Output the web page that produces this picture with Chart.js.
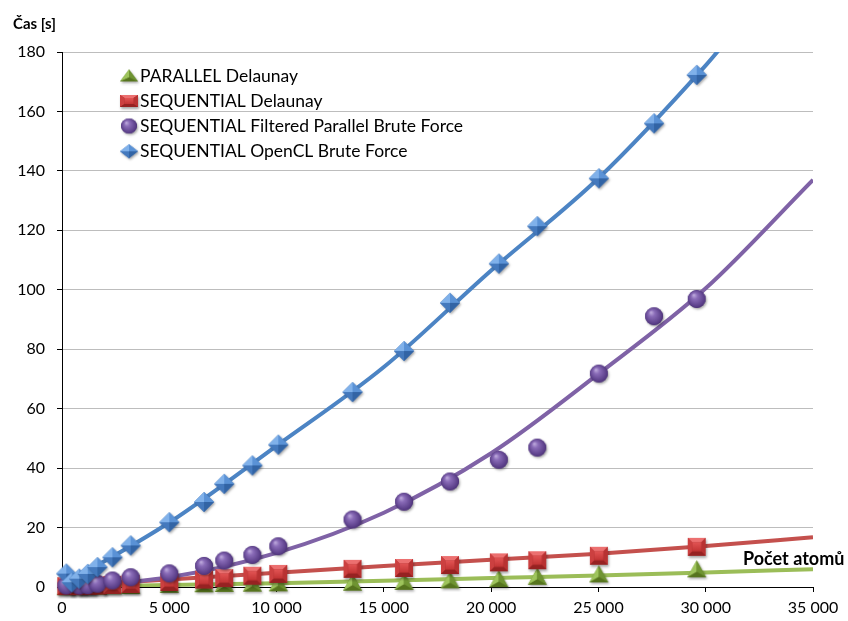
<!DOCTYPE html>
<html>
<head>
<meta charset="utf-8">
<script src="https://cdn.jsdelivr.net/npm/chart.js@4"></script>
<style>
  html, body { margin: 0; padding: 0; background: #fff; }
  #wrap { position: relative; width: 848px; height: 621px; }
</style>
</head>
<body>
<div id="wrap"><canvas id="chart"></canvas></div>
<script>
// ---- tick labels and captions ----
const xTickLabels = ['0', '5 000', '10 000', '15 000', '20 000', '25 000', '30 000', '35 000'];
const yAxisCaption = 'Čas [s]';
const xAxisCaption = 'Počet atomů';
const seriesNames = [
  'PARALLEL Delaunay',
  'SEQUENTIAL Delaunay',
  'SEQUENTIAL Filtered Parallel Brute Force',
  'SEQUENTIAL OpenCL Brute Force'
];

// ---- measured values (atoms -> seconds) ----
const atomsOpenCL = [200, 450, 800, 1200, 1650, 2350, 3200, 5000, 6620, 7560, 8870, 10080, 13540, 15940, 18080, 20360, 22150, 25020, 27590, 29580];
const timeOpenCL  = [4.5, 1.6, 2.8, 4.4, 6.7, 10.0, 14.0, 21.8, 28.6, 34.7, 40.9, 47.9, 65.6, 79.4, 95.6, 108.8, 121.4, 137.5, 156.0, 172.3];

const atomsFiltered = [200, 800, 1200, 1650, 2350, 3200, 5000, 6620, 7560, 8870, 10080, 13540, 15940, 18080, 20360, 22150, 25020, 27590, 29580];
const timeFiltered  = [0.5, 0.5, 0.6, 1.1, 2.2, 3.3, 4.6, 7.1, 8.9, 10.8, 13.7, 22.7, 28.7, 35.5, 42.8, 46.9, 71.8, 91.1, 96.9];

const atomsDelaunay   = [200, 800, 1200, 1650, 2350, 3200, 5000, 6620, 7560, 8870, 10080, 13540, 15940, 18080, 20360, 22150, 25020, 29580];
const timeSeqDelaunay = [0.3, 0.3, 0.4, 0.5, 0.7, 1.0, 1.7, 2.5, 3.0, 3.8, 4.4, 6.1, 6.4, 7.4, 8.3, 9.0, 10.5, 13.5];
const timeParDelaunay = [0.1, 0.2, 0.25, 0.3, 0.4, 0.5, 0.9, 1.1, 1.2, 1.3, 1.4, 1.6, 1.9, 2.4, 2.8, 3.6, 4.4, 6.1];

// ---- trend lines ----
const trendAtoms       = [0, 5000, 10000, 15000, 20000, 25000, 30000, 35000];
const trendParDelaunay = [0, 0.7, 1.3, 2.1, 3.0, 3.9, 4.9, 6.0];
const trendSeqDelaunay = [0.4, 2.5, 4.8, 7.1, 9.2, 11.2, 13.8, 16.7];
const trendFiltered    = [0, 3.3, 11.5, 25.0, 45.0, 71.7, 100.5, 137.0];
const trendAtomsOpenCL = [0, 5000, 10000, 15000, 20000, 25000, 30000, 31000];
const trendOpenCL      = [0.5, 21.7, 47.5, 74.0, 106.5, 137.5, 175.5, 184.0];

const FONT = 'Lato, "Open Sans", sans-serif';

const pts = (xs, ys) => xs.map((x, i) => ({ x: x, y: ys[i] }));

// ---- glossy marker sprites ----
function sprite(w, h, paint) {
  const pad = 4;
  const c = document.createElement('canvas');
  c.width = w + pad * 2;
  c.height = h + pad * 2;
  const g = c.getContext('2d');
  g.translate(pad + w / 2, pad + h / 2);
  paint(g, w / 2, h / 2);
  return c;
}
function poly(g, p, fill) {
  g.beginPath();
  g.moveTo(p[0][0], p[0][1]);
  for (let i = 1; i < p.length; i++) g.lineTo(p[i][0], p[i][1]);
  g.closePath();
  g.fillStyle = fill;
  g.fill();
}
function withShadow(g, fn) {
  g.save();
  g.shadowColor = 'rgba(0,0,0,0.35)';
  g.shadowBlur = 2.5;
  g.shadowOffsetX = 1.2;
  g.shadowOffsetY = 1.5;
  fn();
  g.restore();
}
function diamond(w, h) {
  return sprite(w, h, (g, a, b) => {
    const T = [0, -b], R = [a, 0], B = [0, b], L = [-a, 0], C = [0, 0];
    withShadow(g, () => poly(g, [T, R, B, L], '#3f72b4'));
    poly(g, [L, T, C], '#80b1ea');
    poly(g, [T, R, C], '#5a92d6');
    poly(g, [R, B, C], '#3264a5');
    poly(g, [B, L, C], '#4479bd');
  });
}
function square(w, h) {
  return sprite(w, h, (g, a, b) => {
    const TL = [-a, -b], TR = [a, -b], BR = [a, b], BL = [-a, b];
    const k = 0.5, tl = [-a * k, -b * k], tr = [a * k, -b * k], br = [a * k, b * k], bl = [-a * k, b * k];
    withShadow(g, () => poly(g, [TL, TR, BR, BL], '#a82a2a'));
    poly(g, [TL, TR, tr, tl], '#ec7070');
    poly(g, [TL, tl, bl, BL], '#cc4040');
    poly(g, [TR, BR, br, tr], '#b83232');
    poly(g, [BL, bl, br, BR], '#962222');
    const grd = g.createLinearGradient(0, -b * k, 0, b * k);
    grd.addColorStop(0, '#e25454');
    grd.addColorStop(1, '#c23434');
    poly(g, [tl, tr, br, bl], grd);
  });
}
function ball(w, h) {
  return sprite(w, h, (g, a, b) => {
    withShadow(g, () => {
      g.beginPath();
      g.ellipse(0, 0, a, b, 0, 0, Math.PI * 2);
      g.fillStyle = '#553a80';
      g.fill();
    });
    const grd = g.createRadialGradient(-a * 0.35, -b * 0.45, 0, 0, 0, Math.max(a, b) * 1.15);
    grd.addColorStop(0, '#c3b0e0');
    grd.addColorStop(0.3, '#8a6cb8');
    grd.addColorStop(0.8, '#5a3e88');
    grd.addColorStop(1, '#3e2664');
    g.beginPath();
    g.ellipse(0, 0, a, b, 0, 0, Math.PI * 2);
    g.fillStyle = grd;
    g.fill();
  });
}
function pyramid(w, h) {
  return sprite(w, h, (g, a, b) => {
    const T = [0, -b], BR = [a, b], BL = [-a, b], C = [0, b * 0.35];
    withShadow(g, () => poly(g, [T, BR, BL], '#5f7f26'));
    poly(g, [T, BL, C], '#9ec45c');
    poly(g, [T, BR, C], '#6f9432');
    poly(g, [BL, BR, C], '#56741e');
  });
}

const mkTriangle = pyramid(19, 17);
const mkSquare   = square(18, 18);
const mkBall     = ball(18, 18);
const mkDiamond  = diamond(20, 20);

const lgTriangle = pyramid(18, 12);
const lgSquare   = square(18, 12);
const lgBall     = ball(16, 15);
const lgDiamond  = diamond(18, 14);

// ---- captions and in-plot legend ----
const overlay = {
  id: 'overlay',
  afterDraw(chart) {
    const ctx = chart.ctx;
    ctx.save();
    ctx.fillStyle = '#000';
    ctx.textBaseline = 'alphabetic';
    ctx.textAlign = 'left';
    ctx.font = 'bold 15px ' + FONT;
    ctx.fillText(yAxisCaption, 13, 29);
    ctx.font = 'bold 18px ' + FONT;
    ctx.fillText(xAxisCaption, 743, 565);

    const marks = [lgTriangle, lgSquare, lgBall, lgDiamond];
    const rowBase = [81.5, 107, 132, 157.3];
    ctx.font = '17.5px ' + FONT;
    seriesNames.forEach((name, i) => {
      const m = marks[i];
      const cy = rowBase[i] - 6;
      ctx.drawImage(m, 129 - m.width / 2, cy - m.height / 2);
      ctx.fillStyle = '#000';
      ctx.fillText(name, 140, rowBase[i]);
    });
    ctx.restore();
  }
};

const markerSet = (label, xs, ys, img, order) => ({
  label: label,
  data: pts(xs, ys),
  showLine: false,
  pointStyle: img,
  pointRadius: 9,
  pointHoverRadius: 9,
  clip: false,
  order: order
});
const trendSet = (xs, ys, color, order) => ({
  data: pts(xs, ys),
  showLine: true,
  borderColor: color,
  borderWidth: 4,
  pointRadius: 0,
  pointHoverRadius: 0,
  cubicInterpolationMode: 'monotone',
  fill: false,
  order: order
});

new Chart(document.getElementById('chart'), {
  type: 'scatter',
  data: {
    datasets: [
      markerSet(seriesNames[3], atomsOpenCL, timeOpenCL, mkDiamond, 0),
      markerSet(seriesNames[2], atomsFiltered, timeFiltered, mkBall, 1),
      markerSet(seriesNames[1], atomsDelaunay, timeSeqDelaunay, mkSquare, 2),
      markerSet(seriesNames[0], atomsDelaunay, timeParDelaunay, mkTriangle, 3),
      trendSet(trendAtomsOpenCL, trendOpenCL, '#4c84c4', 4),
      trendSet(trendAtoms, trendFiltered, '#7f62a6', 5),
      trendSet(trendAtoms, trendSeqDelaunay, '#c4504d', 6),
      trendSet(trendAtoms, trendParDelaunay, '#9bbd58', 7)
    ]
  },
  options: {
    responsive: true,
    maintainAspectRatio: false,
    animation: false,
    events: [],
    layout: { padding: { top: 52, right: 35, left: 0, bottom: 0 } },
    plugins: {
      legend: { display: false },
      tooltip: { enabled: false },
      title: { display: false }
    },
    scales: {
      x: {
        type: 'linear',
        min: 0,
        max: 35000,
        afterFit: s => { s.height = 34; },
        ticks: {
          stepSize: 5000,
          padding: 6,
          maxRotation: 0,
          color: '#000',
          font: { family: FONT, size: 16 },
          callback: (v, i) => xTickLabels[i]
        },
        grid: { drawOnChartArea: false, drawTicks: true, tickLength: 5, tickColor: '#000' },
        border: { color: '#000', width: 1 }
      },
      y: {
        type: 'linear',
        min: 0,
        max: 180,
        afterFit: s => { s.width = 62; },
        ticks: {
          stepSize: 20,
          padding: 12,
          color: '#000',
          font: { family: FONT, size: 16 }
        },
        grid: { color: '#bdbdbd', lineWidth: 1, tickLength: 5, tickColor: '#000' },
        border: { color: '#000', width: 1 }
      }
    }
  },
  plugins: [overlay]
});
</script>
</body>
</html>
